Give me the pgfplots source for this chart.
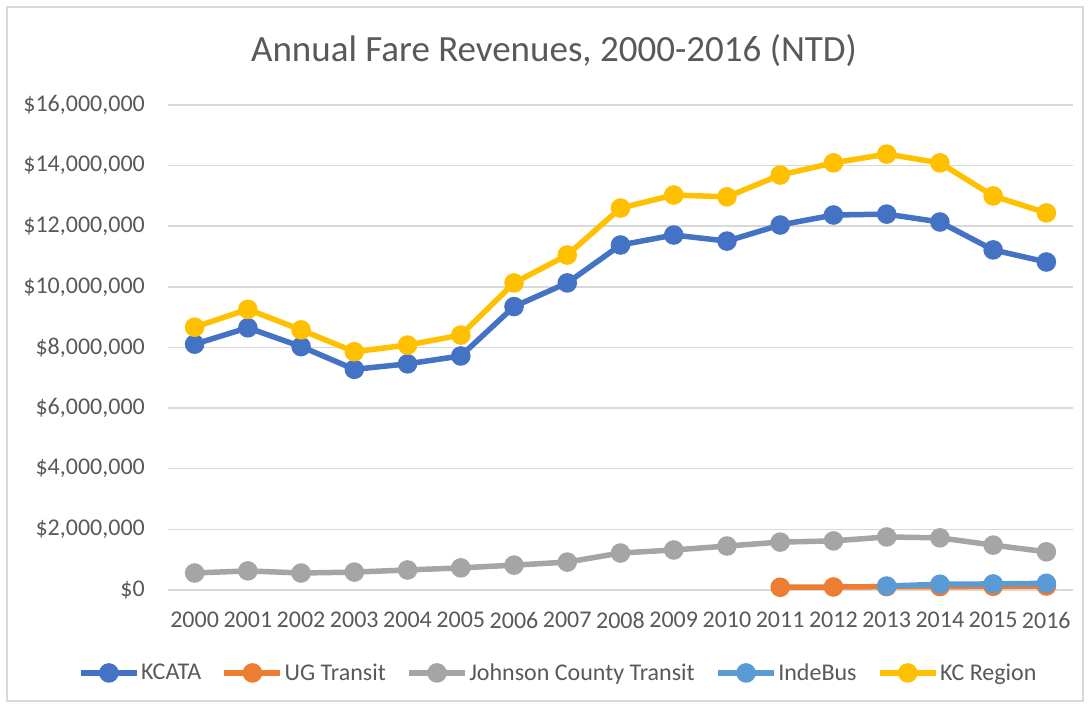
\documentclass[border=0pt]{standalone}
\usepackage{pgfplots}
\pgfplotsset{compat=1.18}
\usepackage{fontspec}
\setmainfont{Carlito}
\definecolor{cKCATA}{HTML}{4472C4}
\definecolor{cUG}{HTML}{ED7D31}
\definecolor{cJC}{HTML}{A5A5A5}
\definecolor{cInde}{HTML}{5B9BD5}
\definecolor{cKC}{HTML}{FFC000}
\definecolor{txt}{HTML}{595959}
\definecolor{grd}{HTML}{D9D9D9}
\begin{document}
\begin{tikzpicture}[x=1pt,y=1pt]
\path (0,0) rectangle (1090,708);
\draw[grd,line width=1.5pt] (7,7) rectangle (1083,701);
\node[txt,font=\fontsize{37}{44}\selectfont] at (554,657) {Annual Fare Revenues, 2000-2016 (NTD)};
\begin{axis}[
  at={(168pt,118pt)}, anchor=south west,
  scale only axis, width=905pt, height=485pt,
  xmin=1999.5, xmax=2016.5, ymin=0, ymax=16000000,
  axis line style={draw=none},
  major tick length=0pt,
  xtick={2000,...,2016},
  xticklabels={2000,2001,2002,2003,2004,2005,2006,2007,2008,2009,2010,2011,2012,2013,2014,2015,2016},
  ytick={0,2000000,4000000,6000000,8000000,10000000,12000000,14000000,16000000},
  yticklabels={{\$0},{\$2,000,000},{\$4,000,000},{\$6,000,000},{\$8,000,000},{\$10,000,000},{\$12,000,000},{\$14,000,000},{\$16,000,000}},
  ymajorgrids, grid style={grd,line width=1.5pt},
  tick label style={txt,font=\fontsize{24}{29}\selectfont},
  xticklabel style={inner sep=0pt, anchor=north, yshift=-22pt},
  yticklabel style={inner sep=0pt, anchor=east, xshift=-23pt},
  scaled y ticks=false,
  clip=false,
  every axis plot/.append style={line width=5.5pt, mark=*, mark size=7pt, mark options={solid}},
  legend style={at={(0.431,-0.171)}, anchor=center, draw=none, fill=none,
    font=\fontsize{24}{29}\selectfont, text=txt, legend columns=5,
    nodes={inner sep=1.5pt},
    /tikz/every even column/.append style={column sep=19pt}},
  legend image code/.code={\draw[#1,line width=5.5pt] (0pt,0pt) -- (56pt,0pt); \fill[#1] (28pt,0pt) circle (7pt);},
]
\addplot[cKCATA] coordinates {(2000,8110000)(2001,8650000)(2002,8030000)(2003,7280000)(2004,7460000)(2005,7720000)(2006,9350000)(2007,10130000)(2008,11380000)(2009,11710000)(2010,11510000)(2011,12040000)(2012,12370000)(2013,12400000)(2014,12140000)(2015,11220000)(2016,10820000)};
\addlegendentry{KCATA}
\addplot[cUG] coordinates {(2011,90000)(2012,100000)(2013,110000)(2014,110000)(2015,120000)(2016,130000)};
\addlegendentry{UG Transit}
\addplot[cJC] coordinates {(2000,560000)(2001,630000)(2002,560000)(2003,590000)(2004,660000)(2005,730000)(2006,820000)(2007,920000)(2008,1220000)(2009,1320000)(2010,1450000)(2011,1580000)(2012,1620000)(2013,1750000)(2014,1720000)(2015,1480000)(2016,1260000)};
\addlegendentry{Johnson County Transit}
\addplot[cInde] coordinates {(2013,130000)(2014,190000)(2015,200000)(2016,220000)};
\addlegendentry{IndeBus}
\addplot[cKC] coordinates {(2000,8670000)(2001,9260000)(2002,8580000)(2003,7860000)(2004,8080000)(2005,8410000)(2006,10130000)(2007,11050000)(2008,12600000)(2009,13030000)(2010,12970000)(2011,13690000)(2012,14090000)(2013,14380000)(2014,14090000)(2015,13000000)(2016,12440000)};
\addlegendentry{KC Region}
\end{axis}
\end{tikzpicture}
\end{document}
